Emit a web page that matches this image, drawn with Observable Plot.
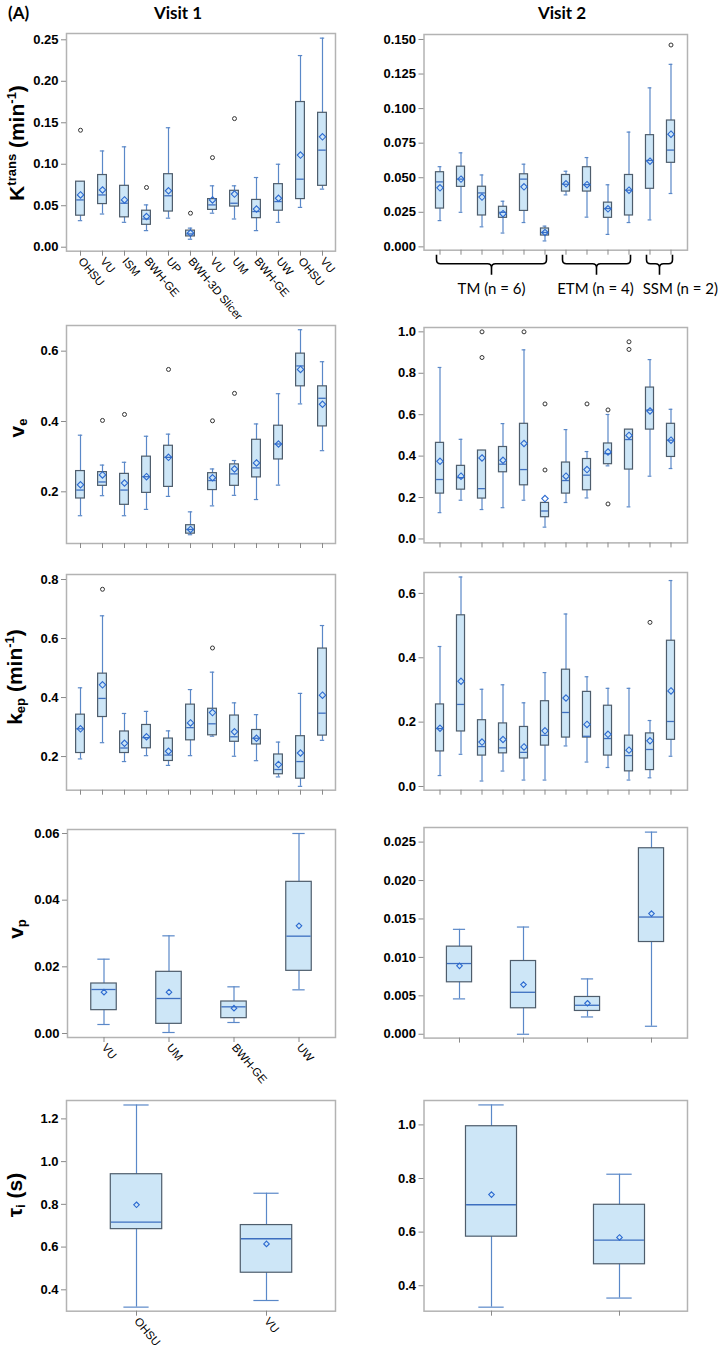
<!DOCTYPE html>
<html><head><meta charset="utf-8">
<script src="https://cdn.jsdelivr.net/npm/d3@7"></script>
<script src="https://cdn.jsdelivr.net/npm/@observablehq/plot@0.6"></script>
<style>
body{margin:0;background:#fff;}
#root{position:relative;width:720px;height:1350px;overflow:hidden;background:#fff;font-family:"Liberation Sans",Arial,sans-serif;}
.abs{position:absolute;}
.abs svg{max-width:none;}
.ylab{position:absolute;font-weight:bold;font-size:21px;white-space:nowrap;transform:translate(-50%,-50%) rotate(-90deg);color:#000;line-height:1;font-family:"Liberation Sans",Arial,sans-serif;}
.ylab sup{font-size:0.62em;vertical-align:0.55em;line-height:0;}
.ylab sub{font-size:0.62em;vertical-align:-0.25em;line-height:0;}
.title{position:absolute;font-family:Lato,"Open Sans",sans-serif;font-weight:bold;font-size:17px;line-height:1;color:#000;white-space:nowrap;}
</style></head>
<body><div id="root"></div>
<script>
// ---------- data ----------
const sitesV1 = ["OHSU","VU","ISM","BWH-GE","UP","BWH-3D Slicer","VU","UM","BWH-GE","UW","OHSU","VU"];
const vpSites = ["VU","UM","BWH-GE","UW"];
const tauSites = ["OHSU","VU"];
const groupNames = ["TM (n = 6)","ETM (n = 4)","SSM (n = 2)"];
const groupSpans = [[0,5],[6,9],[10,11]];
const rowLabels = ["K<sup>trans</sup> (min<sup>-1</sup>)","v<sub>e</sub>","k<sub>ep</sub> (min<sup>-1</sup>)","v<sub>p</sub>","τ<sub>i</sub> (s)"];

// each row: [lower whisker, Q1, median, Q3, upper whisker, mean]
const ktransV1 = [
  [0.032,0.038,0.057,0.079,0.079,0.063],[0.040,0.052,0.063,0.087,0.116,0.069],
  [0.030,0.036,0.053,0.074,0.121,0.057],[0.020,0.027,0.034,0.044,0.051,0.037],
  [0.035,0.043,0.062,0.088,0.144,0.068],[0.0096,0.013,0.016,0.020,0.023,0.017],
  [0.041,0.045,0.051,0.058,0.074,0.057],[0.034,0.049,0.053,0.068,0.074,0.064],
  [0.020,0.035,0.043,0.057,0.084,0.046],[0.030,0.044,0.055,0.076,0.100,0.059],
  [0.048,0.058,0.082,0.175,0.231,0.111],[0.070,0.074,0.117,0.162,0.252,0.133]];
const ktransV1Out = [[0,0.141],[3,0.072],[5,0.041],[6,0.108],[7,0.155]];
const ktransV2 = [
  [0.019,0.0277,0.047,0.054,0.058,0.0427],[0.025,0.0434,0.049,0.058,0.068,0.049],
  [0.0145,0.0227,0.039,0.0435,0.052,0.036],[0.010,0.021,0.025,0.029,0.033,0.024],
  [0.0176,0.026,0.049,0.0525,0.0598,0.0434],[0.0043,0.0082,0.0104,0.0133,0.015,0.0104],
  [0.0376,0.040,0.0453,0.052,0.0547,0.0456],[0.0215,0.040,0.045,0.0576,0.0646,0.045],
  [0.009,0.021,0.0277,0.032,0.0449,0.0275],[0.0176,0.0227,0.041,0.052,0.083,0.041],
  [0.0195,0.042,0.0625,0.0808,0.115,0.062],[0.0386,0.0608,0.070,0.0914,0.132,0.0815]];
const ktransV2Out = [[11,0.146]];
const veV1 = [
  [0.132,0.181,0.205,0.259,0.361,0.220],[0.189,0.217,0.228,0.256,0.276,0.248],
  [0.132,0.163,0.205,0.251,0.284,0.225],[0.150,0.197,0.243,0.300,0.358,0.243],
  [0.187,0.214,0.298,0.331,0.364,0.298],[0.078,0.081,0.093,0.105,0.143,0.093],
  [0.160,0.205,0.232,0.253,0.265,0.240],[0.190,0.217,0.251,0.278,0.289,0.265],
  [0.178,0.241,0.268,0.348,0.393,0.282],[0.219,0.292,0.336,0.388,0.479,0.336],
  [0.450,0.500,0.558,0.593,0.661,0.548],[0.317,0.386,0.466,0.500,0.570,0.449]];
const veV1Out = [[1,0.403],[2,0.420],[4,0.548],[6,0.402],[7,0.480]];
const veV2 = [
  [0.127,0.219,0.287,0.464,0.828,0.375],[0.187,0.238,0.296,0.353,0.481,0.303],
  [0.142,0.195,0.243,0.427,0.427,0.391],[0.151,0.322,0.361,0.444,0.557,0.380],
  [0.187,0.259,0.335,0.556,0.913,0.461],[0.057,0.105,0.135,0.174,0.174,0.195],
  [0.176,0.219,0.282,0.369,0.528,0.303],[0.198,0.235,0.308,0.386,0.422,0.335],
  [0.353,0.361,0.412,0.461,0.601,0.420],[0.155,0.335,0.480,0.528,0.528,0.500],
  [0.303,0.528,0.622,0.731,0.866,0.618],[0.340,0.396,0.477,0.556,0.626,0.477]];
const veV2Out = [[2,0.876],[2,1.0],[4,1.0],[5,0.333],[5,0.652],[7,0.652],[8,0.623],[8,0.169],[9,0.952],[9,0.915]];
const kepV1 = [
  [0.192,0.212,0.294,0.342,0.433,0.294],[0.247,0.334,0.397,0.481,0.677,0.443],
  [0.183,0.212,0.229,0.285,0.346,0.245],[0.203,0.228,0.264,0.307,0.353,0.267],
  [0.170,0.185,0.205,0.261,0.287,0.218],[0.203,0.255,0.298,0.376,0.427,0.314],
  [0.269,0.272,0.311,0.362,0.486,0.349],[0.201,0.250,0.267,0.339,0.382,0.284],
  [0.186,0.241,0.262,0.290,0.342,0.262],[0.131,0.140,0.156,0.207,0.249,0.173],
  [0.099,0.125,0.183,0.269,0.414,0.212],[0.255,0.271,0.347,0.566,0.644,0.408]];
const kepV1Out = [[1,0.767],[6,0.568]];
const kepV2 = [
  [0.034,0.109,0.180,0.255,0.435,0.181],[0.100,0.171,0.255,0.532,0.651,0.327],
  [0.017,0.096,0.124,0.206,0.302,0.138],[0.048,0.103,0.120,0.196,0.316,0.146],
  [0.020,0.087,0.106,0.185,0.260,0.123],[0.020,0.127,0.159,0.265,0.354,0.173],
  [0.126,0.152,0.230,0.363,0.536,0.275],[0.076,0.152,0.156,0.294,0.341,0.193],
  [0.059,0.096,0.149,0.251,0.305,0.162],[0.020,0.047,0.096,0.158,0.305,0.113],
  [0.027,0.051,0.115,0.165,0.205,0.142],[0.094,0.145,0.202,0.453,0.640,0.297]];
const kepV2Out = [[10,0.510]];
const vpV1 = [
  [0.0027,0.0070,0.0132,0.0150,0.0223,0.0124],[0.0003,0.0029,0.0105,0.0185,0.0293,0.0124],
  [0.0033,0.0046,0.0080,0.0096,0.0140,0.0076],[0.0131,0.0188,0.0292,0.0455,0.0600,0.0323]];
const vpV2 = [
  [0.0046,0.00676,0.0092,0.0114,0.01365,0.0089],[0.0,0.00338,0.00546,0.00953,0.01395,0.00646],
  [0.00225,0.00303,0.00377,0.00485,0.0072,0.00403],[0.00104,0.0120,0.01525,0.0242,0.0263,0.0157]];
const tauV1 = [[0.319,0.684,0.717,0.941,1.265,0.798],[0.350,0.480,0.639,0.703,0.852,0.615]];
const tauV2 = [[0.320,0.583,0.702,0.995,1.0745,0.740],[0.354,0.480,0.570,0.702,0.816,0.580]];

const ticksKtransV1 = [0,0.05,0.10,0.15,0.20,0.25];
const ticksKtransV2 = [0,0.025,0.05,0.075,0.10,0.125,0.15];
const ticksVeV1 = [0.2,0.4,0.6];
const ticksVeV2 = [0,0.2,0.4,0.6,0.8,1.0];
const ticksKepV1 = [0.2,0.4,0.6,0.8];
const ticksKepV2 = [0,0.2,0.4,0.6];
const ticksVpV1 = [0,0.02,0.04,0.06];
const ticksVpV2 = [0,0.005,0.010,0.015,0.020,0.025];
const ticksTauV1 = [0.4,0.6,0.8,1.0,1.2];
const ticksTauV2 = [0.4,0.6,0.8,1.0];

// ---------- styles ----------
const whiskerC = "#5a88c8", boxFill = "#cde6f7", boxStroke = "#4e5d6c", medC = "#3d6fc0", meanC = "#2c6ad0", outC = "#333";
const root = document.getElementById("root");

function panel(c) {
  const W = 360, mt = 12;
  const top = c.fy0 - mt;
  const ml = c.fx0 - c.left, mr = c.left + W - c.fx1;
  const H = c.fy1 - top + c.mb;
  const n = c.stats.length;
  const step = (c.fx1 - c.fx0) / (n + 2 * c.po);
  const boxW = step * 0.40;
  const inset = (step - boxW) / 2;
  const capInset = (step - boxW * 0.5) / 2;
  const meanR = n > 4 ? 2.9 : 2.5;
  const rows = c.stats.map((s, i) => ({i, lo: s[0], q1: s[1], med: s[2], q3: s[3], hi: s[4], mean: s[5]}));
  const outRows = (c.outs || []).map(([i, v]) => ({i, v}));
  const plot = Plot.plot({
    width: W, height: H,
    marginLeft: ml, marginRight: mr, marginTop: mt, marginBottom: c.mb,
    style: {background: "none", overflow: "visible", fontFamily: "'Liberation Sans', Arial, sans-serif", color: "#000"},
    x: {type: "band", domain: d3.range(n), paddingInner: 0, paddingOuter: c.po},
    y: {domain: c.yDomain, nice: false},
    marks: [
      Plot.frame({stroke: "#b3b3b3", strokeWidth: 1.5}),
      Plot.axisY({ticks: c.yTicks, tickFormat: d3.format(c.yFmt), tickSize: 5, tickPadding: 3, stroke: "#8a8a8a", fontSize: 13, fontWeight: "bold", label: null}),
      Plot.axisX({tickSize: 5, tickPadding: 3, stroke: "#8a8a8a", label: null,
        tickFormat: c.labels ? (i => c.labels[i]) : (() => ""),
        tickRotate: c.labels ? 50 : 0, fontSize: 11.5, fontWeight: "normal"}),
      Plot.ruleX(rows, {x: "i", y1: "lo", y2: "hi", stroke: whiskerC, strokeWidth: 1.2}),
      Plot.tickY(rows, {x: "i", y: "lo", insetLeft: capInset, insetRight: capInset, stroke: whiskerC, strokeWidth: 1.2}),
      Plot.tickY(rows, {x: "i", y: "hi", insetLeft: capInset, insetRight: capInset, stroke: whiskerC, strokeWidth: 1.2}),
      Plot.barY(rows, {x: "i", y1: "q1", y2: "q3", insetLeft: inset, insetRight: inset, fill: boxFill, stroke: boxStroke, strokeWidth: 1.2}),
      Plot.tickY(rows, {x: "i", y: "med", insetLeft: inset + 0.6, insetRight: inset + 0.6, stroke: medC, strokeWidth: 1.3}),
      Plot.dot(rows, {x: "i", y: "mean", symbol: "diamond2", r: meanR, stroke: meanC, strokeWidth: 1.1, fill: "none"}),
      Plot.dot(outRows, {x: "i", y: "v", r: 2, stroke: outC, strokeWidth: 1, fill: "none"})
    ]
  });
  const div = document.createElement("div");
  div.className = "abs";
  div.style.left = c.left + "px";
  div.style.top = top + "px";
  div.style.width = W + "px";
  div.appendChild(plot);
  root.appendChild(div);
  return {plot, H, mb: c.mb, step, fx0: c.fx0 - c.left, po: c.po};
}

const L = {left: 0, fx0: 66, fx1: 335};
const R = {left: 360, fx0: 423.5, fx1: 687};

panel({...L, fy0: 33, fy1: 250.7, mb: 75, po: 0.1, stats: ktransV1, outs: ktransV1Out, yDomain: [-0.0048, 0.2576], yTicks: ticksKtransV1, yFmt: ".2f", labels: sitesV1});
const p2 = panel({...R, fy0: 34.3, fy1: 250, mb: 55, po: 0.1, stats: ktransV2, outs: ktransV2Out, yDomain: [-0.0024, 0.1536], yTicks: ticksKtransV2, yFmt: ".3f"});
panel({...L, fy0: 325, fy1: 543, mb: 12, po: 0.1, stats: veV1, outs: veV1Out, yDomain: [0.053, 0.673], yTicks: ticksVeV1, yFmt: ".1f"});
panel({...R, fy0: 327.3, fy1: 542.7, mb: 12, po: 0.1, stats: veV2, outs: veV2Out, yDomain: [-0.019, 1.021], yTicks: ticksVeV2, yFmt: ".1f"});
panel({...L, fy0: 574.3, fy1: 790, mb: 12, po: 0.1, stats: kepV1, outs: kepV1Out, yDomain: [0.086, 0.817], yTicks: ticksKepV1, yFmt: ".1f"});
panel({...R, fy0: 572.3, fy1: 790, mb: 12, po: 0.1, stats: kepV2, outs: kepV2Out, yDomain: [-0.0115, 0.665], yTicks: ticksKepV2, yFmt: ".1f"});
panel({...L, fx0: 67, fy0: 829.3, fy1: 1037.3, mb: 50, po: 0.035, stats: vpV1, yDomain: [-0.0012, 0.0612], yTicks: ticksVpV1, yFmt: ".2f", labels: vpSites});
panel({...R, fy0: 826.7, fy1: 1037.3, mb: 12, po: 0.035, stats: vpV2, yDomain: [-0.0005, 0.0269], yTicks: ticksVpV2, yFmt: ".3f"});
panel({...L, fy0: 1100, fy1: 1310.7, mb: 38, po: 0.027, stats: tauV1, yDomain: [0.300, 1.286], yTicks: ticksTauV1, yFmt: ".1f", labels: tauSites});
panel({...R, fy0: 1100, fy1: 1310.7, mb: 12, po: 0.027, stats: tauV2, yDomain: [0.305, 1.091], yTicks: ticksTauV2, yFmt: ".1f"});

// ---------- group brackets under Visit 2 K-trans ----------
(function () {
  const svg = d3.select(p2.plot);
  const sx = p2.plot.scale("x");
  const cx = (i) => (sx && typeof sx.apply === "function") ? sx.apply(i) + (sx.bandwidth || 0) / 2
    : p2.fx0 + p2.step * (p2.po + i + 0.5);
  const fb = p2.H - p2.mb;
  const y0 = fb + 5, y1 = fb + 14, yn = fb + 25, r = 4;
  groupSpans.forEach(([a, b], k) => {
    const x0 = cx(a) - 3, x1 = cx(b) + 2, xm = (x0 + x1) / 2;
    const d = `M${x0},${y0} L${x0},${y1 - r} Q${x0},${y1} ${x0 + r},${y1} L${xm - r},${y1} Q${xm},${y1} ${xm},${y1 + r} L${xm},${yn}` +
      ` M${xm},${y1 + r} Q${xm},${y1} ${xm + r},${y1} L${x1 - r},${y1} Q${x1},${y1} ${x1},${y1 - r} L${x1},${y0}`;
    svg.append("path").attr("d", d).attr("fill", "none").attr("stroke", "#000").attr("stroke-width", 1.6);
    const last = k === groupSpans.length - 1;
    svg.append("text")
      .attr("x", last ? 358 : xm + (k === 1 ? -1 : 0))
      .attr("y", fb + 39)
      .attr("dy", "0.35em")
      .attr("text-anchor", last ? "end" : "middle")
      .attr("font-family", "Lato, 'Open Sans', sans-serif")
      .attr("font-size", 15)
      .attr("font-weight", "normal")
      .attr("fill", "#000")
      .text(groupNames[k]);
  });
})();

// ---------- titles ----------
function addTitle(text, x, y, anchor) {
  const d = document.createElement("div");
  d.className = "title";
  d.textContent = text;
  d.style.left = x + "px";
  d.style.top = y + "px";
  if (anchor === "middle") d.style.transform = "translateX(-50%)";
  root.appendChild(d);
}
addTitle("(A)", 8, 4, "start");
addTitle("Visit 1", 178, 4, "middle");
addTitle("Visit 2", 562, 4, "middle");

// ---------- y labels ----------
const ylabPos = [[16,143],[16,428],[14,677],[15,929],[14,1195]];
rowLabels.forEach((html, k) => {
  const d = document.createElement("div");
  d.className = "ylab";
  d.innerHTML = html;
  d.style.left = ylabPos[k][0] + "px";
  d.style.top = ylabPos[k][1] + "px";
  root.appendChild(d);
});
</script>
</body></html>
